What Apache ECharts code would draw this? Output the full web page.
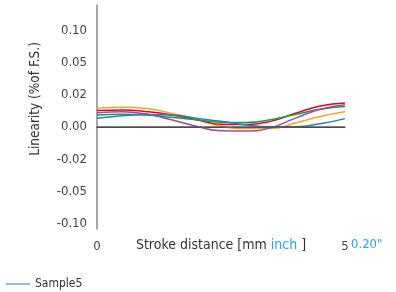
<!DOCTYPE html>
<html>
<head>
<meta charset="utf-8">
<script src="https://cdn.jsdelivr.net/npm/echarts@6/dist/echarts.min.js"></script>
<style>
  html, body { margin: 0; padding: 0; background: #fff; }
  #chart { width: 396px; height: 292px; }
</style>
</head>
<body>
<div id="chart"></div>
<script>
// stroke positions [mm]
var strokeMm = [0, 0.5, 1, 1.5, 2, 2.5, 3, 3.5, 4, 4.5, 5];
// linearity [% of F.S.]
var sample1 = [0.0117, 0.0123, 0.0115, 0.0085, 0.0050, 0.0005, -0.0010, -0.0010, 0.0025, 0.0065, 0.0094]; // orange
var sample2 = [0.0102, 0.0106, 0.0095, 0.0075, 0.0045, 0.0017, 0.0015, 0.0035, 0.0085, 0.0130, 0.0148]; // red
var sample3 = [0.0075, 0.0079, 0.0075, 0.0060, 0.0045, 0.0030, 0.0028, 0.0045, 0.0078, 0.0110, 0.0127]; // green
var sample4 = [0.0089, 0.0094, 0.0080, 0.0045, 0.0005, -0.0023, -0.0025, -0.0005, 0.0055, 0.0110, 0.0138]; // purple
var sample5 = [0.0054, 0.0070, 0.0078, 0.0075, 0.0055, 0.0035, 0.0012, 0.0001, 0.0002, 0.0020, 0.0052]; // blue
// y tick labels (evenly spaced, non-linear)
var yTicks = [-0.10, -0.05, -0.02, 0.00, 0.02, 0.05, 0.10];
var yTickLabels = ['-0.10', '-0.05', '-0.02', '0.00', '0.02', '0.05', '0.10'];

var FONT = '"Liberation Sans Narrow", "DejaVu Sans Condensed", "Liberation Sans", sans-serif';

// piecewise map of a value onto the evenly spaced tick positions
function toAxis(v) {
    for (var i = 0; i < yTicks.length - 1; i++) {
        if (v <= yTicks[i + 1] || i === yTicks.length - 2) {
            var t = (v - yTicks[i]) / (yTicks[i + 1] - yTicks[i]);
            return i - 3 + t;
        }
    }
}
function pts(arr) {
    return arr.map(function (v, i) { return [strokeMm[i], toAxis(v)]; });
}

var seriesDefs = [
    { name: 'Sample1', data: sample1, color: '#F5A623' },
    { name: 'Sample2', data: sample2, color: '#E60026' },
    { name: 'Sample3', data: sample3, color: '#12A04A' },
    { name: 'Sample4', data: sample4, color: '#9A4EA3' },
    { name: 'Sample5', data: sample5, color: '#2A7CC6' }
];

var series = seriesDefs.map(function (s) {
    return {
        name: s.name,
        type: 'line',
        smooth: true,
        showSymbol: false,
        data: pts(s.data),
        lineStyle: { color: s.color, width: 1.5 },
        itemStyle: { color: s.color },
        z: 3
    };
});
// zero line
series[0].markLine = {
    silent: true,
    symbol: 'none',
    label: { show: false },
    lineStyle: { color: '#555', width: 1.5, type: 'solid' },
    data: [{ yAxis: 0 }]
};

var chart = echarts.init(document.getElementById('chart'));
chart.setOption({
    animation: false,
    textStyle: { fontFamily: FONT },
    grid: { left: 97, right: 51, top: 5, bottom: 63 },
    legend: {
        data: ['Sample5'],
        left: 6, top: 278, padding: 0,
        icon: 'rect', itemWidth: 24, itemHeight: 1, itemGap: 3,
        textStyle: { fontFamily: FONT, fontSize: 12, color: '#333' }
    },
    xAxis: {
        type: 'value',
        min: 0, max: 5,
        axisLine: { show: true, lineStyle: { color: '#333', width: 1 } },
        axisTick: { show: false },
        splitLine: { show: false },
        axisLabel: {
            customValues: [0, 5],
            margin: 11,
            fontFamily: FONT, fontSize: 13, color: '#444',
            formatter: function (v) { return String(v); }
        },
        name: '{a|Stroke distance [mm }{b|inch}{a| ]}',
        nameLocation: 'middle',
        nameGap: 9,
        nameMoveOverlap: false,
        nameTextStyle: {
            rich: {
                a: { fontFamily: FONT, fontSize: 14, color: '#333' },
                b: { fontFamily: FONT, fontSize: 14, color: '#29A8E0' }
            }
        }
    },
    yAxis: {
        type: 'value',
        min: -3.16, max: 3.78,
        axisLine: { show: true, lineStyle: { color: '#888', width: 1.5 } },
        axisTick: { show: false },
        splitLine: { show: false },
        axisLabel: {
            customValues: [-3, -2, -1, 0, 1, 2, 3],
            margin: 10,
            fontFamily: FONT, fontSize: 13, color: '#444',
            formatter: function (v) { return yTickLabels[Math.round(v) + 3]; }
        }
    },
    graphic: [{
        type: 'text',
        x: 35, y: 99,
        rotation: Math.PI / 2,
        style: {
            text: 'Linearity (%of F.S.)',
            fontFamily: FONT, fontSize: 13.5, fill: '#333',
            align: 'center', verticalAlign: 'middle'
        }
    }, {
        type: 'text',
        left: 351, top: 238,
        style: { text: '0.20"', fontFamily: FONT, fontSize: 13, fill: '#29A8E0' }
    }],
    series: series
});
</script>
</body>
</html>
